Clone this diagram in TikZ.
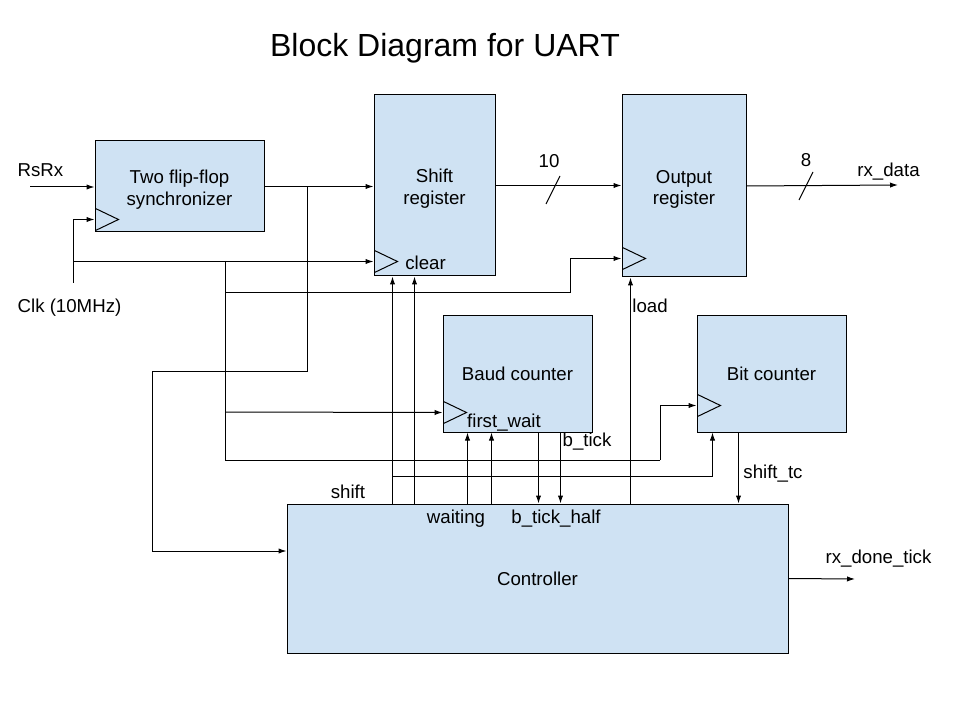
\documentclass[tikz,border=0pt]{standalone}
\usepackage{fontspec}
\setmainfont{Liberation Sans}
\usepackage{tikz}
\usetikzlibrary{arrows.meta,calc}
\definecolor{blockfill}{HTML}{CFE2F3}
\def\pxu{0.75pt}

\begin{document}
\begin{tikzpicture}[x=\pxu,y=-\pxu,line width=0.75pt,>={Latex[length=6pt,width=4pt]}]
		\tikzstyle{block}=[draw=black, fill=blockfill, align=center, inner sep=0pt, font=\fontsize{14}{16}\selectfont]
		\tikzstyle{two line}=[text height=28pt, text depth=0pt]
		\tikzstyle{sig}=[inner sep=0pt, text height=12pt, text depth=2pt, font=\fontsize{14}{16}\selectfont]
		\tikzstyle{title}=[anchor=base, inner sep=0pt, font=\fontsize{24}{28}\selectfont]
		\useasboundingbox (0,0) rectangle (960,720);
		
		\node[title] (title) at (445,57) {Block Diagram for UART};
		
		% Draw the blocks
		\node[block, two line, minimum width=169*\pxu, minimum height=91*\pxu] (sync) at (179.5,186.5) {Two flip-flop\\synchronizer};
		\node[block, two line, minimum width=121*\pxu, minimum height=181*\pxu] (shiftreg) at (434.5,185.5) {Shift\\register};
		\node[block, two line, minimum width=124*\pxu, minimum height=182*\pxu] (outreg) at (684,186) {Output\\register};
		\node[block, minimum width=149*\pxu, minimum height=117*\pxu] (baud) at (517.5,373.5) {Baud counter};
		\node[block, minimum width=149*\pxu, minimum height=117*\pxu] (bitcnt) at (771.5,373.5) {Bit counter};
		\node[block, minimum width=501*\pxu, minimum height=149*\pxu] (ctrl) at (537.5,578.5) {Controller};
		
		% Draw the clock inputs
		\foreach \blk/\off in {sync/13,shiftreg/15,outreg/19,baud/20,bitcnt/27}{
			\coordinate (\blk-clk) at ($(\blk.south west)+(0,-\off)$);
			\draw (\blk-clk) ++(1,-11) -- ++(23,11) -- ++(-23,11);
		}
		
		% External inputs
		\coordinate (rsrx) at (30,187);
		\coordinate (clk) at (73,283);
		\node[sig] (rsrx-lbl) at (40.5,170) {RsRx};
		\node[sig] (clk-lbl) at (69.5,306) {Clk (10MHz)};
		\draw[->] (rsrx) -- (rsrx -| sync.west);
		\draw[->] (clk) |- (sync-clk);
		\draw[->] (clk |- shiftreg-clk) -- (shiftreg-clk);
		
		% Clock to the other blocks
		\coordinate (ck-a) at (225,261);
		\coordinate (ck-b) at (225,293);
		\coordinate (ck-c) at (225,412);
		\coordinate (ck-d) at (225,460);
		\coordinate (ck-e) at (570,293);
		\coordinate (ck-f) at (660,460);
		\draw (ck-a) -- (ck-d) -- (ck-f);
		\draw[->] (ck-f) |- (bitcnt-clk);
		\draw[->] (ck-b) -- (ck-e) |- (outreg-clk);
		\draw[->] (ck-c) -- (baud-clk);
		
		% Synchronized input to shift register and controller
		\coordinate (rx-a) at ($(sync.east)+(43,0)$);
		\coordinate (rx-b) at (152,371);
		\coordinate (rx-c) at (152,551);
		\draw[->] (sync.east) -- (sync.east -| shiftreg.west);
		\draw[->] (rx-a) |- (rx-b) -- (rx-c) -- (rx-c -| ctrl.west);
		
		% Data paths
		\coordinate (bus10) at (553,190);
		\coordinate (bus8) at (806,186);
		\coordinate (outdata) at (898,185);
		\draw[->] (shiftreg.east) -- (shiftreg.east -| outreg.west);
		\draw[->] (outreg.east) -- (outdata);
		\draw ($(bus10)+(-7,14)$) -- ($(bus10)+(7,-14)$);
		\draw ($(bus8)+(-7,14)$) -- ($(bus8)+(7,-14)$);
		\node[sig] (bus10-lbl) at (549,161) {10};
		\node[sig] (bus8-lbl) at (806,160) {8};
		\node[sig] (outdata-lbl) at (888.5,170) {rx\_data};
		
		% Controller signals
		\coordinate (sig-shift) at ($(shiftreg.south west)+(19,0)$);
		\coordinate (sig-clear) at ($(shiftreg.south west)+(41,0)$);
		\coordinate (sig-first) at ($(baud.south west)+(25,0)$);
		\coordinate (sig-wait) at ($(baud.south west)+(49,0)$);
		\coordinate (sig-half) at ($(baud.south west)+(96,0)$);
		\coordinate (sig-tick) at ($(baud.south west)+(118,0)$);
		\coordinate (sig-load) at ($(outreg.south west)+(9,0)$);
		\coordinate (sig-bit) at ($(bitcnt.south west)+(16,0)$);
		\coordinate (sig-tc) at ($(bitcnt.south west)+(42,0)$);
		\coordinate (sig-branch) at ($(sig-shift |- ctrl.north)+(0,-27)$);
		\coordinate (done) at (855,579);
		
		\foreach \s in {shift,clear,first,wait,load}
		\draw[->] (sig-\s |- ctrl.north) -- (sig-\s);
		\foreach \s in {half,tick,tc}
		\draw[->] (sig-\s) -- (sig-\s |- ctrl.north);
		\draw[->] (sig-branch) -| (sig-bit);
		\draw[->] (ctrl.east) -- (done);
		
		% Annotate the signals
		\node[sig] (shift-lbl) at (348,492) {shift};
		\node[sig] (clear-lbl) at (425.5,263) {clear};
		\node[sig] (wait-lbl) at (456,517) {waiting};
		\node[sig] (first-lbl) at (504,421) {first\_wait};
		\node[sig] (tick-lbl) at (587,440) {b\_tick};
		\node[sig] (half-lbl) at (556,517) {b\_tick\_half};
		\node[sig] (load-lbl) at (650,306) {load};
		\node[sig] (tc-lbl) at (773,472) {shift\_tc};
		\node[sig] (done-lbl) at (878.5,557) {rx\_done\_tick};
	\end{tikzpicture}
\end{document}
